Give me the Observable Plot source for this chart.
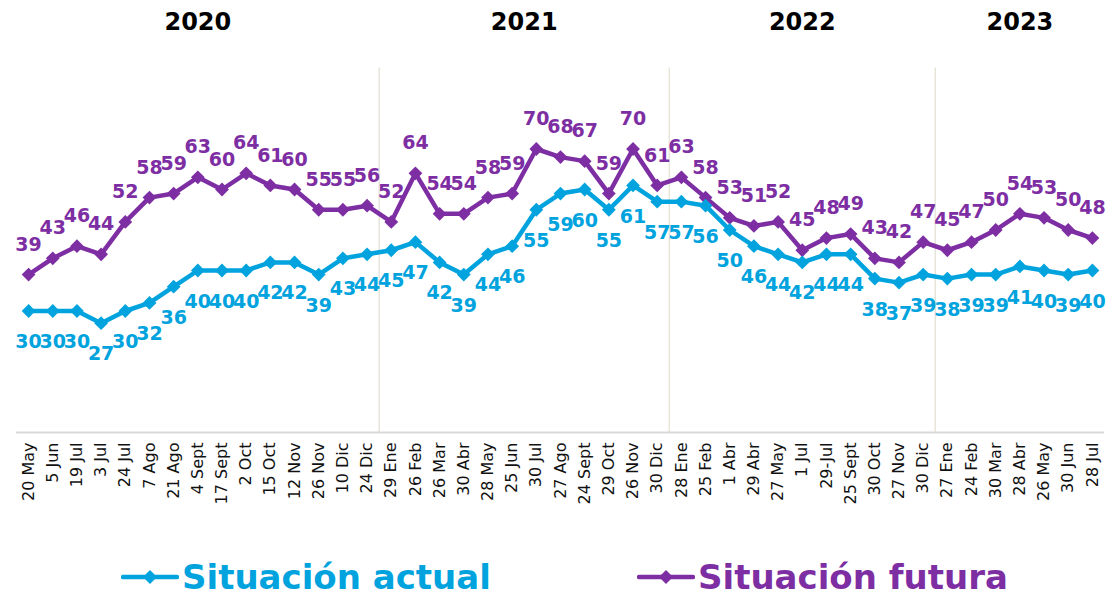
<!DOCTYPE html>
<html>
<head>
<meta charset="utf-8">
<script src="https://cdn.jsdelivr.net/npm/d3@7"></script>
<script src="https://cdn.jsdelivr.net/npm/@observablehq/plot@0.6"></script>
<style>
  html, body { margin: 0; padding: 0; background: #fff; }
  #wrap { position: relative; width: 1108px; height: 596px; overflow: hidden; font-family: "DejaVu Sans", sans-serif; }
  #legend { position: absolute; left: 0; top: 532px; width: 1108px; height: 64px; }
  .item { position: absolute; top: 25px; display: flex; align-items: center; font-weight: bold; font-size: 34px; white-space: nowrap; }
  .item svg { margin-right: 3px; }
</style>
</head>
<body>
<div id="wrap">
  <div id="chart"></div>
  <div id="legend"></div>
</div>
<script>
const dates = [
  "20 May","5 Jun","19 Jul","3 Jul","24 Jul","7 Ago","21 Ago","4 Sept","17 Sept","2 Oct","15 Oct","12 Nov","26 Nov","10 Dic","24 Dic",
  "29 Ene","26 Feb","26 Mar","30 Abr","28 May","25 Jun","30 Jul","27 Ago","24 Sept","29 Oct","26 Nov","30 Dic",
  "28 Ene","25 Feb","1 Abr","29 Abr","27 May","1 Jul","29-Jul","25 Sept","30 Oct","27 Nov","30 Dic",
  "27 Ene","24 Feb","30 Mar","28 Abr","26 May","30 Jun","28 Jul"
];
const actual = [
  30,30,30,27,30,32,36,40,40,40,42,42,39,43,44,
  45,47,42,39,44,46,55,59,60,55,61,57,
  57,56,50,46,44,42,44,44,38,37,39,
  38,39,39,41,40,39,40
];
const futura = [
  39,43,46,44,52,58,59,63,60,64,61,60,55,55,56,
  52,64,54,54,58,59,70,68,67,59,70,61,
  63,58,53,51,52,45,48,49,43,42,47,
  45,47,50,54,53,50,48
];
const years = ["2020","2021","2022","2023"];
const yearCounts = [15,12,11,7];
const seriesNames = ["Situación actual","Situación futura"];
const colors = ["#00a3dd","#7e2ea3"];

const rows = dates.map((d, i) => ({i, date: d, actual: actual[i], futura: futura[i]}));
let start = 0;
const yearRows = years.map((y, k) => {
  const r = {year: y, x0: start - 0.5, x1: start + yearCounts[k] - 0.5};
  r.mid = (r.x0 + r.x1) / 2;
  start += yearCounts[k];
  return r;
});
const separators = yearRows.slice(1).map(r => r.x0);

// square diamond symbol
const diamond = {
  draw(ctx, size) {
    const h = Math.sqrt(size / 2);
    ctx.moveTo(0, -h); ctx.lineTo(h, 0); ctx.lineTo(0, h); ctx.lineTo(-h, 0); ctx.closePath();
  }
};

const chart = Plot.plot({
  width: 1108,
  height: 532,
  marginLeft: 16,
  marginRight: 4,
  marginTop: 27,
  marginBottom: 100,
  style: {fontFamily: "'DejaVu Sans', sans-serif", background: "#fff", overflow: "visible"},
  x: {type: "linear", domain: [-0.5, dates.length - 0.5], axis: null},
  y: {domain: [0, 100], axis: null},
  marks: [
    Plot.ruleX(separators, {x: d => d, y1: 0, y2: 90, stroke: "#e8e4da", strokeWidth: 1.5}),
    Plot.ruleY([0], {stroke: "#d9d9d9", strokeWidth: 2}),
    Plot.axisX({ticks: d3.range(dates.length), tickFormat: i => dates[i], tickRotate: -90, tickSize: 0, tickPadding: 10, fontSize: 16, fill: "#111", fontWeight: "normal"}),
    Plot.line(rows, {x: "i", y: "futura", stroke: colors[1], strokeWidth: 4.5}),
    Plot.line(rows, {x: "i", y: "actual", stroke: colors[0], strokeWidth: 4.5}),
    Plot.dot(rows, {x: "i", y: "futura", symbol: diamond, r: 5.5, fill: colors[1], stroke: "none"}),
    Plot.dot(rows, {x: "i", y: "actual", symbol: diamond, r: 5.5, fill: colors[0], stroke: "none"}),
    Plot.text(rows, {x: "i", y: "futura", text: d => String(d.futura), dy: -30, fill: colors[1], fontSize: 19, fontWeight: "bold"}),
    Plot.text(rows, {x: "i", y: "actual", text: d => String(d.actual), dy: 31, fill: colors[0], fontSize: 19, fontWeight: "bold"}),
    Plot.text(yearRows, {x: "mid", y: () => 100, text: "year", dy: -5, fontSize: 24, fontWeight: "bold", fill: "#000"})
  ]
});
document.getElementById("chart").appendChild(chart);

const legend = document.getElementById("legend");
const lefts = [121, 637];
seriesNames.forEach((name, k) => {
  const item = document.createElement("div");
  item.className = "item";
  item.style.left = lefts[k] + "px";
  item.style.color = colors[k];
  item.innerHTML = `<svg width="58" height="20"><line x1="2" y1="10" x2="56" y2="10" stroke="${colors[k]}" stroke-width="4.5" stroke-linecap="round"/><path d="M29,3 L36,10 L29,17 L22,10 Z" fill="${colors[k]}"/></svg><span>${name}</span>`;
  legend.appendChild(item);
});
</script>
</body>
</html>
